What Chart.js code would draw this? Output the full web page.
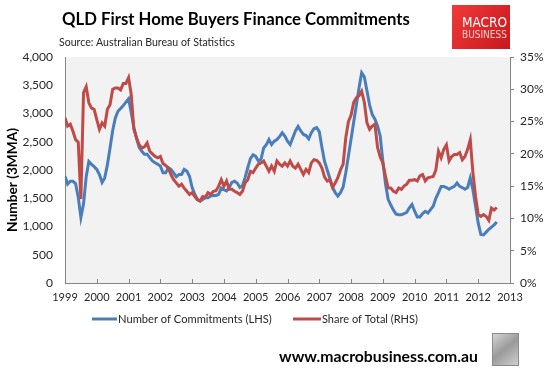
<!DOCTYPE html>
<html><head><meta charset="utf-8">
<script src="https://cdn.jsdelivr.net/npm/chart.js@4/dist/chart.umd.min.js"></script>
<style>html,body{margin:0;padding:0;background:#fff;overflow:hidden}canvas{display:block}</style>
</head><body>
<canvas id="c" width="547" height="370"></canvas>
<script>
// ---------- data ----------
const chartTitle = 'QLD First Home Buyers Finance Commitments';
const chartSubtitle = 'Source: Australian Bureau of Statistics';
const footerText = 'www.macrobusiness.com.au';
const leftAxisTitle = 'Number (3MMA)';
const seriesNames = ['Number of Commitments (LHS)', 'Share of Total (RHS)'];
const firstYear = 1999;            // series start: January 1999, monthly
const yearTicks = [1999,2000,2001,2002,2003,2004,2005,2006,2007,2008,2009,2010,2011,2012,2013];
const leftTicks = [0,500,1000,1500,2000,2500,3000,3500,4000];
const rightTicks = [0,5,10,15,20,25,30,35];

const numberOfCommitments = [
 1890,1750,1800,1800,1760,1520,1160,1400,1880,2150,2100,2060,
 2010,1920,1780,1860,2090,2390,2700,2920,3040,3090,3140,3200,
 3260,3020,2750,2560,2400,2330,2280,2280,2220,2160,2130,2100,
 2070,1950,1950,2040,2010,1950,1880,1920,1920,2010,1980,1890,
 1690,1570,1480,1450,1480,1510,1510,1540,1550,1550,1570,1680,
 1650,1630,1690,1780,1800,1770,1690,1720,1870,2040,2200,2270,
 2240,2160,2190,2390,2450,2540,2450,2510,2540,2590,2660,2600,
 2510,2450,2570,2690,2770,2690,2630,2610,2550,2660,2730,2750,
 2680,2400,2150,2000,1850,1700,1600,1540,1600,1700,1950,2250,
 2550,2850,3150,3450,3720,3650,3400,3150,2980,2900,2780,2600,
 2150,1750,1480,1380,1290,1220,1210,1210,1230,1250,1330,1390,
 1270,1170,1170,1230,1270,1240,1300,1360,1500,1600,1710,1710,
 1690,1660,1690,1710,1770,1710,1690,1660,1690,1860,1650,1360,
 1060,860,850,900,950,990,1030,1080
];
const shareOfTotal = [
 25.6,24.3,24.6,23.5,22.2,21.8,13.0,29.5,30.4,27.9,27.1,26.9,
 25.3,23.8,24.8,24.3,26.9,27.6,30.0,30.2,30.2,29.9,30.9,30.9,
 31.8,29.2,23.8,22.5,21.4,20.9,21.1,21.7,20.4,20.0,19.6,19.4,
 19.6,18.5,18.2,17.8,16.8,16.0,15.5,15.0,15.3,14.7,14.2,13.7,
 14.0,13.4,12.9,12.7,13.4,13.3,14.0,13.7,14.2,14.3,15.0,16.0,
 15.0,15.8,14.5,14.5,14.2,14.0,13.7,14.2,15.5,16.0,17.3,17.1,
 17.8,18.4,18.6,18.9,18.1,17.3,18.1,17.3,18.9,18.4,18.1,18.6,
 18.1,18.9,18.1,17.8,18.4,17.6,16.8,17.6,17.1,18.6,19.1,19.0,
 18.6,17.8,16.4,15.8,16.0,14.8,15.5,16.3,17.5,18.4,22.5,25.0,
 26.0,28.0,28.7,29.0,29.7,28.0,24.8,23.8,24.3,24.6,21.0,19.5,
 18.6,16.5,14.7,14.7,14.2,14.0,14.7,14.5,15.0,15.3,15.9,15.9,
 16.0,15.8,16.6,16.8,15.8,16.3,16.4,16.5,17.5,20.4,19.4,20.7,
 21.4,18.9,19.6,19.9,19.9,20.2,19.1,19.6,20.7,22.2,17.1,13.4,
 10.6,10.3,10.6,10.3,9.7,11.6,11.3,11.7
];

// ---------- helpers ----------
const toPoints = arr => arr.map((v, i) => ({ x: firstYear + i / 12, y: v }));
const BLUE = '#4a7ebb', RED = '#be4b48', AXIS = '#868686', TXT = '#262626';
const FONT = 'Lato, "Open Sans", sans-serif';

function fitFont(ctx, text, weight, family, targetW) {
  ctx.font = weight + ' 100px ' + family;
  return 100 * targetW / ctx.measureText(text).width;
}

const decor = {
  id: 'decor',
  beforeDraw(chart) {
    const { ctx, chartArea: a } = chart;
    ctx.save();
    ctx.fillStyle = '#ffffff';
    ctx.fillRect(0, 0, chart.width, chart.height);
    ctx.fillStyle = '#f2f2f2';
    ctx.fillRect(a.left, a.top, a.right - a.left, a.bottom - a.top);
    ctx.restore();
  },
  afterDatasetsDraw(chart) {
    const { ctx, chartArea: a, scales } = chart;
    ctx.save();
    // year tick marks on x axis (pointing into the plot)
    ctx.strokeStyle = AXIS; ctx.lineWidth = 1;
    yearTicks.forEach(v => {
      const px = Math.round(scales.x.getPixelForValue(v)) + 0.5;
      ctx.beginPath(); ctx.moveTo(px, a.bottom); ctx.lineTo(px, a.bottom - 4); ctx.stroke();
    });
    ctx.restore();
  },
  afterDraw(chart) {
    const { ctx } = chart;
    ctx.save();
    ctx.textBaseline = 'middle';
    ctx.fillStyle = '#000';
    // title
    let fs = fitFont(ctx, chartTitle, 'bold', FONT, 348);
    ctx.font = 'bold ' + fs + 'px ' + FONT; ctx.textAlign = 'left';
    ctx.fillText(chartTitle, 62, 20);
    // subtitle
    fs = fitFont(ctx, chartSubtitle, 'normal', FONT, 176);
    ctx.font = fs + 'px ' + FONT; ctx.fillStyle = TXT;
    ctx.fillText(chartSubtitle, 59, 43);
    // left axis title
    fs = fitFont(ctx, leftAxisTitle, 'bold', FONT, 104);
    ctx.save();
    ctx.translate(13, 180); ctx.rotate(-Math.PI / 2);
    ctx.font = 'bold ' + fs + 'px ' + FONT; ctx.textAlign = 'center'; ctx.fillStyle = '#000';
    ctx.fillText(leftAxisTitle, 0, 0);
    ctx.restore();
    // legend
    const ly = 319;
    const legendItems = [
      { color: BLUE, x0: 92, x1: 117, tx: 118, tw: 154, label: seriesNames[0] },
      { color: RED, x0: 293, x1: 321, tx: 322, tw: 96, label: seriesNames[1] }
    ];
    legendItems.forEach(it => {
      ctx.strokeStyle = it.color; ctx.lineWidth = 3;
      ctx.beginPath(); ctx.moveTo(it.x0, ly); ctx.lineTo(it.x1, ly); ctx.stroke();
      const f = fitFont(ctx, it.label, 'normal', FONT, it.tw);
      ctx.font = f + 'px ' + FONT; ctx.fillStyle = TXT; ctx.textAlign = 'left';
      ctx.fillText(it.label, it.tx, ly);
    });
    // footer
    fs = fitFont(ctx, footerText, 'bold', FONT, 199);
    ctx.font = 'bold ' + fs + 'px ' + FONT; ctx.fillStyle = '#000';
    ctx.fillText(footerText, 279, 357);
    // wolf badge
    const g2 = ctx.createLinearGradient(492, 333, 518, 365);
    g2.addColorStop(0, '#d9d9d9'); g2.addColorStop(0.5, '#9a9a9a'); g2.addColorStop(1, '#cfcfcf');
    ctx.fillStyle = g2; ctx.fillRect(492, 334, 26, 31);
    ctx.strokeStyle = '#8a8a8a'; ctx.lineWidth = 1; ctx.strokeRect(492.5, 333.5, 26, 32);
    // logo
    const g = ctx.createLinearGradient(452, 5, 510, 49);
    g.addColorStop(0, '#f03a3a'); g.addColorStop(1, '#c8171b');
    ctx.fillStyle = g; ctx.fillRect(452, 5, 58, 44);
    const LF = '"Liberation Sans Narrow", "DejaVu Sans Condensed", "Liberation Sans", sans-serif';
    ctx.textAlign = 'left'; ctx.fillStyle = '#ffffff';
    fs = fitFont(ctx, 'MACRO', 'normal', LF, 45);
    ctx.font = fs + 'px ' + LF; ctx.fillText('MACRO', 462, 23);
    fs = fitFont(ctx, 'BUSINESS', 'normal', LF, 45);
    ctx.font = fs + 'px ' + LF; ctx.fillStyle = '#f6cfcf'; ctx.fillText('BUSINESS', 462, 35.5);
    ctx.restore();
  }
};

new Chart(document.getElementById('c'), {
  type: 'line',
  data: {
    datasets: [
      { label: seriesNames[1], data: toPoints(shareOfTotal), yAxisID: 'y1', borderColor: RED,
        backgroundColor: RED, borderWidth: 3, pointRadius: 0, tension: 0, fill: false, order: 1 },
      { label: seriesNames[0], data: toPoints(numberOfCommitments), yAxisID: 'y', borderColor: BLUE,
        backgroundColor: BLUE, borderWidth: 3, pointRadius: 0, tension: 0, fill: false, order: 2 }
    ]
  },
  options: {
    responsive: false, animation: false, devicePixelRatio: 1,
    layout: { padding: { left: 0, right: 0, top: 57, bottom: 67 } },
    plugins: { legend: { display: false }, title: { display: false }, tooltip: { enabled: false } },
    scales: {
      x: {
        type: 'linear', min: 1999, max: 2013,
        afterBuildTicks: s => { s.ticks = yearTicks.map(v => ({ value: v })); },
        afterFit: s => { s.height = 20; },
        grid: { display: true, drawOnChartArea: false, drawTicks: false },
        border: { display: true, color: AXIS, width: 1 },
        ticks: { padding: 8, color: TXT, font: { family: FONT, size: 11 }, maxRotation: 0, autoSkip: false,
                 callback: v => String(v) }
      },
      y: {
        position: 'left', min: 0, max: 4000,
        afterBuildTicks: s => { s.ticks = leftTicks.map(v => ({ value: v })); },
        afterFit: s => { s.width = 65; },
        grid: { display: true, drawOnChartArea: false, drawTicks: false },
        border: { display: true, color: AXIS, width: 1 },
        ticks: { padding: 12, color: TXT, font: { family: FONT, size: 12 },
                 callback: v => Number(v).toLocaleString('en-US') }
      },
      y1: {
        position: 'right', min: 0, max: 35,
        afterBuildTicks: s => { s.ticks = rightTicks.map(v => ({ value: v })); },
        afterFit: s => { s.width = 37; },
        grid: { display: true, drawOnChartArea: false, drawTicks: true, tickLength: 4, color: AXIS },
        border: { display: true, color: AXIS, width: 1 },
        ticks: { padding: 6, color: TXT, font: { family: FONT, size: 12 }, callback: v => v + '%' }
      }
    }
  },
  plugins: [decor]
});
</script>
</body></html>
